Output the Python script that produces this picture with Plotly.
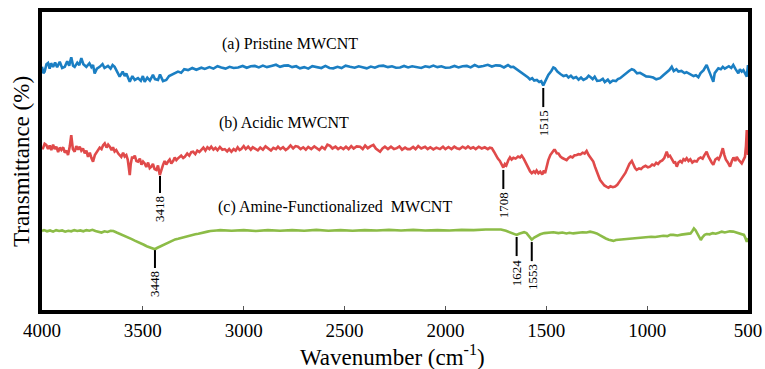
import plotly.graph_objects as go

# ---------------- data ----------------
wn_a = [4000,3993,3987,3978,3970,3962,3955,3945,3935,3925,3912,3900,3887,3875,3865,3855,3846,3838,3825,3815,
        3805,3795,3780,3765,3755,3747,3739,3728,3714,3700,3690,3673,3660,3650,3640,3628,3615,3600,3590,3582,
        3572,3565,3552,3540,3524,3510,3500,3491,3478,3465,3450,3440,3425,3415,3400,3384,3370,3359,3345,3326,
        3310,3295,3276,3255,3235,3210,3193,3170,3150,3130,3111,3090,3070,3050,3028,3005,2985,2965,2945,2925,
        2905,2885,2863,2840,2820,2800,2780,2760,2740,2721,2700,2680,2660,2638,2615,2595,2575,2556,2535,2515,
        2495,2473,2450,2430,2410,2390,2370,2350,2330,2308,2285,2265,2245,2225,2205,2185,2165,2142,2120,2100,
        2080,2060,2040,2020,2000,1977,1955,1935,1915,1894,1875,1855,1835,1812,1790,1770,1750,1729,1710,1690,
        1675,1663,1650,1640,1630,1615,1600,1590,1581,1570,1560,1547,1535,1525,1515,1505,1490,1475,1465,1457,
        1445,1430,1415,1400,1390,1378,1366,1352,1340,1328,1316,1300,1290,1283,1270,1260,1248,1233,1220,1210,
        1195,1184,1170,1155,1145,1134,1120,1105,1090,1076,1065,1050,1035,1020,1005,986,970,955,936,920,
        905,890,878,868,855,845,830,815,805,796,782,770,758,746,735,720,712,705,695,685,
        678,672,665,655,647,635,625,615,605,595,583,573,563,555,548,540,531,523,515,506,500]
t_a = [81.6,79.5,80.0,82.5,82.9,81.0,82.8,81.6,83.0,81.5,83.3,81.2,81.6,83.5,82.0,84.8,82.0,81.6,83.0,82.2,
       84.5,82.5,81.6,82.8,81.5,82.2,79.4,81.0,81.6,82.5,81.2,81.9,81.0,82.2,81.6,80.0,78.3,80.0,78.5,79.4,
       78.0,76.6,78.5,77.2,77.8,76.9,78.5,76.6,78.0,77.0,78.9,77.5,77.2,79.0,76.8,77.2,78.5,78.9,79.5,80.0,
       79.6,80.8,80.5,81.2,80.6,81.3,80.9,81.5,81.0,81.8,81.4,81.0,81.6,81.2,81.4,81.9,81.3,81.8,81.9,81.4,
       82.0,81.5,81.9,82.3,81.6,82.0,82.1,81.5,81.8,81.1,81.5,81.0,81.8,81.6,81.2,81.9,81.2,81.1,81.6,81.2,
       82.0,81.6,81.3,81.8,81.4,81.1,81.7,81.3,81.9,82.0,81.5,81.8,81.3,81.4,81.9,81.4,81.8,81.6,81.2,81.8,
       81.5,82.0,81.5,81.8,81.3,81.4,81.9,81.4,81.8,81.9,81.4,82.2,81.6,81.9,82.3,81.7,82.1,82.0,81.4,82.2,
       81.5,81.6,81.0,80.3,80.0,79.2,78.5,78.0,77.4,77.8,77.0,77.2,76.5,76.8,75.4,77.0,78.9,80.2,81.4,81.1,
       80.0,79.2,78.5,78.8,78.0,78.6,77.8,78.2,77.3,78.0,77.2,77.8,78.6,78.3,77.5,78.3,76.9,77.0,77.6,76.5,
       77.3,76.3,77.0,76.8,77.5,77.8,78.6,79.5,80.2,80.8,80.5,79.4,79.6,79.0,78.4,78.3,78.0,77.4,77.8,78.8,
       79.6,80.5,81.6,80.2,80.8,80.0,80.2,79.5,79.8,79.4,79.0,78.5,78.8,78.1,79.5,80.5,81.5,82.2,80.5,78.5,
       77.3,76.6,79.5,80.2,81.1,80.8,81.6,81.0,81.4,81.8,81.2,82.2,81.0,80.2,79.4,80.8,80.0,80.5,79.2,78.3,82.2]

wn_b = [4000,3995,3987,3979,3970,3962,3954,3945,3937,3929,3920,3912,3904,3895,3887,3878,3871,3862,3855,3847,
        3838,3830,3821,3813,3805,3797,3788,3780,3772,3763,3755,3747,3738,3730,3722,3714,3705,3697,3689,3680,
        3672,3664,3655,3648,3640,3632,3622,3615,3607,3598,3590,3582,3575,3570,3565,3560,3553,3549,3540,3532,
        3524,3515,3507,3499,3491,3483,3474,3466,3458,3450,3442,3433,3425,3416,3408,3400,3392,3384,3375,3367,
        3359,3350,3342,3334,3326,3310,3300,3292,3280,3270,3260,3251,3240,3230,3220,3210,3200,3190,3180,3170,
        3161,3150,3140,3130,3118,3106,3094,3082,3072,3061,3050,3040,3030,3020,3012,3000,2990,2978,2965,2955,
        2945,2930,2918,2905,2892,2879,2865,2853,2840,2830,2818,2805,2792,2780,2768,2755,2743,2731,2718,2705,
        2692,2680,2665,2650,2638,2625,2612,2598,2585,2572,2560,2545,2532,2519,2506,2493,2480,2467,2455,2440,
        2423,2410,2398,2385,2370,2357,2345,2335,2324,2312,2300,2285,2270,2255,2241,2228,2215,2200,2188,2175,
        2160,2148,2135,2120,2101,2088,2075,2060,2045,2027,2012,2000,1985,1970,1956,1944,1930,1915,1900,1888,
        1875,1862,1850,1835,1820,1805,1790,1780,1770,1760,1750,1740,1730,1722,1713,1705,1698,1688,1680,1672,
        1663,1652,1640,1630,1622,1612,1605,1597,1588,1580,1572,1562,1555,1548,1539,1530,1520,1512,1506,1498,
        1490,1480,1470,1462,1457,1448,1440,1430,1420,1410,1399,1390,1380,1370,1360,1349,1340,1330,1320,1310,
        1300,1290,1280,1273,1267,1258,1250,1240,1233,1222,1212,1200,1192,1182,1170,1159,1148,1138,1128,1118,
        1108,1098,1088,1076,1068,1060,1052,1040,1030,1020,1008,996,986,975,965,955,946,936,925,915,
        903,895,887,878,868,861,853,845,836,828,820,812,804,795,786,776,766,754,745,735,
        725,716,705,697,690,680,672,662,652,645,636,625,617,610,600,589,580,572,563,556,
        548,540,531,523,515,510,506,503,500]
t_b = [54.3,54.3,55.8,55.4,54.0,55.2,53.7,55.5,54.0,54.8,53.0,54.5,53.7,54.6,52.8,53.5,52.0,55.0,58.7,54.0,
       53.1,55.0,53.8,54.8,53.5,54.2,52.6,53.5,51.4,52.8,51.0,49.8,52.0,53.0,53.7,54.5,54.0,55.3,55.9,54.5,
       55.5,54.8,53.6,54.6,53.2,53.7,52.5,52.0,51.4,52.8,51.5,52.0,50.5,48.0,45.3,49.0,51.5,50.9,51.8,50.0,
       49.8,50.8,48.8,49.8,49.2,48.0,49.5,47.6,48.1,49.0,47.3,47.0,48.5,45.3,47.5,48.7,50.0,48.8,49.8,50.5,
       49.2,50.0,51.2,50.3,50.9,51.8,51.0,51.4,52.5,51.8,53.0,53.1,52.3,53.5,53.0,53.7,54.5,53.5,54.6,54.0,
       54.8,53.8,54.4,53.6,54.7,53.8,54.0,53.2,54.0,53.1,54.0,53.5,54.6,53.7,54.0,55.0,54.0,54.8,53.8,54.6,
       54.3,53.6,54.5,53.8,54.9,54.3,53.5,54.4,54.0,54.8,54.0,54.6,53.7,54.3,55.2,54.2,55.0,54.8,54.0,54.6,
       53.8,54.7,54.0,54.9,54.3,53.7,54.7,54.0,55.5,55.1,54.2,54.8,54.0,54.6,54.0,54.8,54.0,55.0,54.2,54.9,
       54.8,54.0,55.2,54.3,55.0,55.4,54.2,53.6,53.1,54.2,54.8,54.0,54.8,54.0,54.3,54.9,53.8,54.5,54.0,54.0,
       54.7,54.0,55.0,54.2,54.8,54.0,54.6,53.9,54.5,54.0,54.8,54.0,54.7,54.0,54.8,54.3,54.0,54.8,54.2,54.9,
       54.2,54.6,54.0,54.8,54.2,54.6,54.0,54.5,54.3,53.2,51.8,50.8,50.0,48.8,47.8,49.0,48.5,50.3,51.2,50.5,
       51.1,50.8,51.5,51.2,51.8,50.8,49.8,49.2,47.8,46.5,45.9,46.5,46.0,46.8,45.9,46.4,45.5,46.8,45.9,48.5,
       50.3,52.0,53.0,53.7,53.7,52.6,52.5,51.5,51.0,50.6,50.3,51.0,51.5,51.2,51.9,52.0,52.3,52.2,52.8,52.5,
       53.4,52.0,51.0,50.2,49.8,48.0,46.2,44.8,43.6,42.5,41.8,41.3,41.0,41.5,41.2,41.4,42.0,43.0,44.0,44.7,
       46.0,47.5,49.0,50.0,48.5,47.6,47.0,47.5,47.3,48.0,48.4,47.9,48.1,48.8,48.5,49.4,49.0,49.8,50.2,51.0,
       53.1,51.5,51.8,50.5,49.5,49.6,48.1,49.5,50.0,49.5,50.6,50.2,50.9,50.0,50.6,49.5,50.0,49.8,50.8,51.2,
       50.8,52.0,53.1,51.6,50.5,49.5,48.7,50.5,51.0,50.5,51.8,54.3,52.0,50.5,49.5,48.1,50.0,51.2,50.0,51.4,
       50.5,50.0,49.2,50.3,51.4,55.0,60.4,58.0,52.0]

wn_c = [4000,3990,3975,3960,3945,3930,3915,3900,3885,3870,3855,3840,3825,3810,3795,3780,3765,3750,3735,3720,
        3705,3690,3675,3660,3646,3630,3615,3600,3585,3570,3555,3540,3525,3510,3495,3481,3465,3450,3440,3430,
        3415,3399,3385,3370,3355,3340,3325,3310,3295,3283,3270,3255,3240,3225,3210,3195,3180,3165,3150,3135,
        3117,3060,3000,2940,2880,2820,2760,2700,2640,2580,2520,2460,2400,2340,2280,2220,2160,2100,2040,1980,
        1920,1860,1800,1760,1725,1700,1685,1670,1660,1647,1635,1620,1610,1598,1585,1572,1560,1547,1530,1510,
        1490,1465,1440,1420,1400,1385,1366,1345,1320,1300,1283,1265,1250,1235,1220,1205,1190,1178,1167,1155,
        1140,1120,1101,1080,1060,1040,1020,1002,980,960,940,920,900,885,870,850,830,810,795,785,
        775,768,760,752,742,734,725,715,705,690,675,660,645,630,615,605,590,573,560,545,
        530,520,512,506,500]
t_c = [26.5,26.8,26.4,26.7,26.3,26.8,26.5,26.7,26.3,26.6,26.4,26.8,26.5,26.7,26.4,26.8,26.6,26.9,26.5,26.2,
       26.0,26.4,26.2,26.6,26.5,26.0,25.6,25.2,24.8,24.3,23.8,23.3,22.9,22.4,21.9,21.4,21.0,20.7,20.4,20.8,
       21.3,21.8,22.3,22.8,23.3,23.7,23.9,24.2,24.3,24.6,24.9,25.1,25.4,25.6,25.9,26.2,26.3,26.5,26.5,26.7,
       26.8,26.6,26.8,26.5,26.8,26.6,26.8,26.6,26.9,26.6,26.8,26.6,26.8,26.7,26.9,26.7,26.9,26.7,26.8,26.7,
       26.9,26.8,27.0,26.9,27.0,26.6,26.2,25.8,25.7,25.2,25.6,26.0,26.1,25.8,24.8,23.6,24.3,24.8,25.4,25.8,
       26.0,26.1,25.8,26.0,25.7,25.9,25.7,25.9,26.1,26.0,26.3,26.0,25.7,25.1,24.5,24.0,23.6,23.3,23.2,23.5,
       23.6,23.8,23.7,24.0,24.2,24.1,24.4,24.4,24.6,24.5,24.8,24.9,24.8,25.2,25.2,25.0,25.3,25.4,25.5,25.7,
       26.6,27.4,26.8,25.7,24.3,23.5,24.5,25.2,25.5,25.4,25.8,25.6,25.9,26.3,26.0,26.1,26.4,26.3,26.0,25.8,
       25.5,25.2,24.0,22.9,24.1]

series_names = ["(a) Pristine MWCNT", "(b) Acidic MWCNT", "(c) Amine-Functionalized  MWCNT"]
series_colors = ["#1b7fc3", "#e04a4a", "#8cbc47"]
label_pos = [(2770, 89.3), (2800, 62.8), (2547, 34.6)]

# peak markers: label, x position of the drawn mark, top and bottom of the mark
peak_labels = ["1515", "3418", "1708", "3448", "1624", "1553"]
peak_x = [1515, 3415, 1713, 3440, 1647, 1572]
peak_top = [74.5, 45.0, 47.0, 20.1, 24.5, 22.8]
peak_bot = [68.1, 39.3, 40.6, 14.1, 18.1, 16.4]

x_ticks = [4000, 3500, 3000, 2500, 2000, 1500, 1000, 500]

FONT = "Liberation Serif, Times New Roman, Tinos, serif"

fig = go.Figure()
for wn, t, c in zip([wn_a, wn_b, wn_c], [t_a, t_b, t_c], series_colors):
    fig.add_trace(go.Scatter(x=wn, y=t, mode="lines", line=dict(color=c, width=2.6),
                             showlegend=False, hoverinfo="skip"))

annotations = []
for name, (lx, ly) in zip(series_names, label_pos):
    annotations.append(dict(x=lx, y=ly, xref="x", yref="y", text=name, showarrow=False,
                            font=dict(family=FONT, size=16, color="black"),
                            xanchor="center", yanchor="middle"))

shapes = []
for lab, px, tp, bt in zip(peak_labels, peak_x, peak_top, peak_bot):
    shapes.append(dict(type="line", xref="x", yref="y", x0=px, x1=px, y0=bt, y1=tp,
                       line=dict(color="black", width=2)))
    annotations.append(dict(x=px, y=bt, xref="x", yref="y", text=lab, showarrow=False,
                            textangle=-90, font=dict(family=FONT, size=13, color="black"),
                            xanchor="center", yanchor="top", yshift=-1))

annotations.append(dict(x=0.497, y=-0.154, xref="paper", yref="paper",
                        text="Wavenumber (cm<sup>-1</sup>)", showarrow=False,
                        font=dict(family=FONT, size=23, color="black"),
                        xanchor="center", yanchor="middle"))
annotations.append(dict(x=-0.0283, y=0.497, xref="paper", yref="paper",
                        text="Transmittance (%)", showarrow=False, textangle=-90,
                        font=dict(family=FONT, size=23, color="black"),
                        xanchor="center", yanchor="middle"))

fig.update_layout(
    width=765, height=369,
    margin=dict(l=42, r=17, t=12, b=59, autoexpand=False),
    paper_bgcolor="white", plot_bgcolor="white",
    xaxis=dict(range=[4000, 500], tickvals=x_ticks, ticktext=[str(v) for v in x_ticks],
               ticks="inside", ticklen=4, tickwidth=1, tickcolor="#555",
               showline=True, linewidth=3.5, linecolor="black", mirror=True,
               showgrid=False, zeroline=False, automargin=False, ticklabeloverflow="allow",
               tickfont=dict(family=FONT, size=19, color="black")),
    yaxis=dict(range=[0, 100], showticklabels=False, ticks="",
               showline=True, linewidth=3.5, linecolor="black", mirror=True,
               showgrid=False, zeroline=False, automargin=False),
    annotations=annotations, shapes=shapes,
)

fig.write_html("out.html")
